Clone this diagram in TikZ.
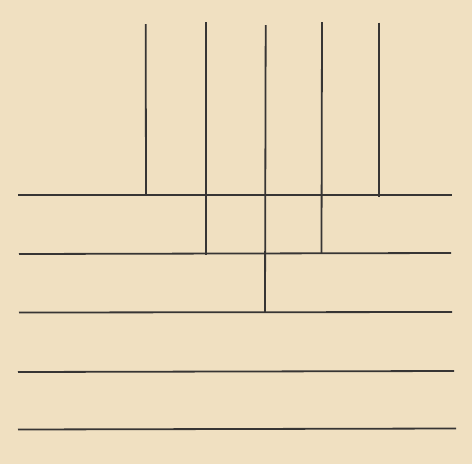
\documentclass[tikz,border=0pt]{standalone}
\definecolor{paper}{RGB}{240,224,193}
\definecolor{ink}{RGB}{55,53,52}
\tikzset{rule/.style={draw=ink,line width=1.8pt}}
\begin{document}
\begin{tikzpicture}[x=1pt,y=-1pt]
\fill[paper] (0,0) rectangle (472,464);
\useasboundingbox (0,0) rectangle (472,464);
% horizontal lines
\draw[rule] (18,195) -- (452,195);
\draw[rule] (19,254) -- (451,253);
\draw[rule] (19,312.5) -- (452,312);
\draw[rule] (18,372) -- (454,371);
\draw[rule] (18,429.5) -- (456,428.5);
% vertical lines
\draw[rule] (145.7,24) -- (146,194);
\draw[rule] (205.7,22) -- (205.7,255);
\draw[rule] (265.7,25) -- (265,312);
\draw[rule] (322,22) -- (321.5,253);
\draw[rule] (379.3,22.5) -- (379.3,197);
\end{tikzpicture}
\end{document}
